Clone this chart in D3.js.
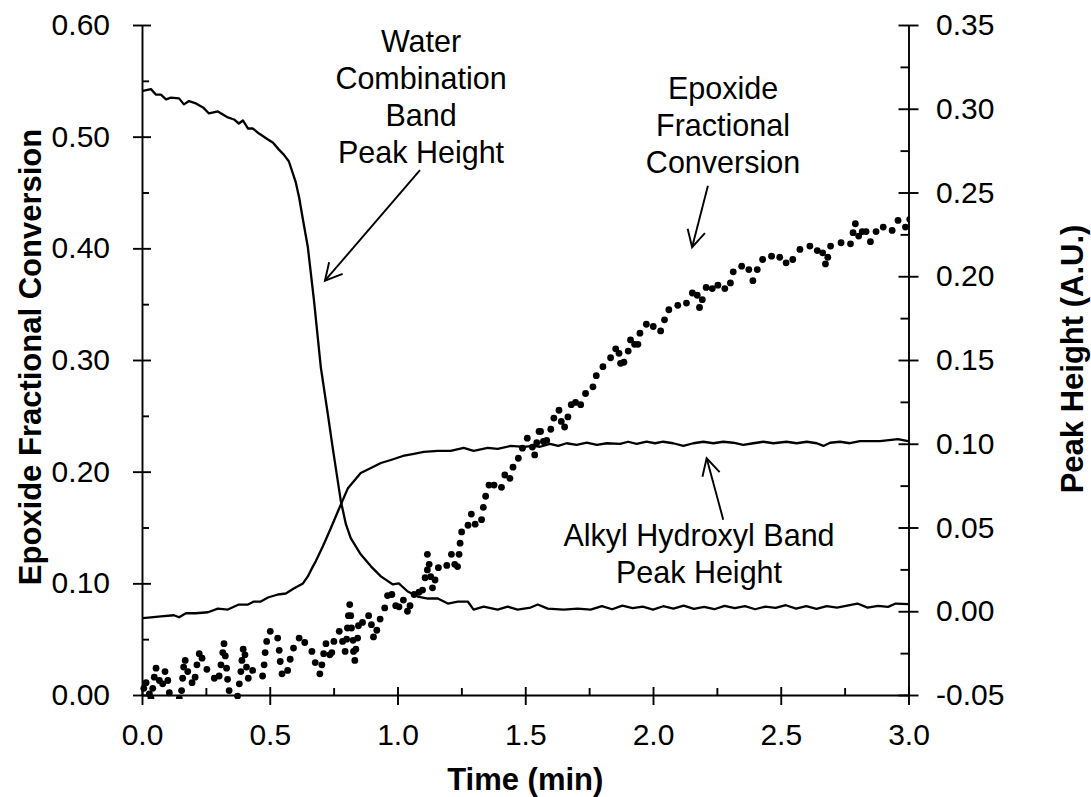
<!DOCTYPE html>
<html>
<head>
<meta charset="utf-8">
<script src="https://cdn.jsdelivr.net/npm/d3@7"></script>
<style>
  body { margin: 0; background: #fff; }
  svg { display: block; }
  text { font-family: "Liberation Sans", Arial, Helvetica, sans-serif; fill: #000; }
</style>
</head>
<body>
<svg id="chart" width="1091" height="797"></svg>
<script>
// ---- axis tick values ----
const timeTicks = [0, 0.5, 1.0, 1.5, 2.0, 2.5, 3.0];
const timeMinor = [0.25, 0.75, 1.25, 1.75, 2.25, 2.75];
const convTicks = [0, 0.1, 0.2, 0.3, 0.4, 0.5, 0.6];
const convMinor = [0.05, 0.15, 0.25, 0.35, 0.45, 0.55];
const peakTicks = [-0.05, 0, 0.05, 0.1, 0.15, 0.2, 0.25, 0.3, 0.35];
const peakMinor = [-0.025, 0.025, 0.075, 0.125, 0.175, 0.225, 0.275, 0.325];

// ---- epoxide fractional conversion (left axis), [time min, conversion] ----
const epoxideConversion = [
  [0.007,0.006],[0.016,0.011],[0.029,0.001],[0.035,-0.003],[0.042,0.006],[0.048,0.016],
  [0.055,0.024],[0.068,0.013],[0.081,0.010],[0.090,0.021],[0.101,0.013],[0.107,0.002],
  [0.146,-0.003],[0.155,0.004],[0.159,0.015],[0.163,0.025],[0.169,0.031],[0.179,0.021],
  [0.196,0.011],[0.208,0.016],[0.215,0.027],[0.224,0.037],[0.235,0.033],[0.254,0.023],
  [0.283,0.015],[0.302,0.017],[0.309,0.027],[0.316,0.038],[0.321,0.046],[0.326,0.035],
  [0.331,0.024],[0.335,0.014],[0.341,0.004],[0.374,-0.001],[0.381,0.010],[0.387,0.021],
  [0.391,0.031],[0.396,0.041],[0.403,0.036],[0.409,0.025],[0.416,0.015],[0.433,0.022],
  [0.472,0.017],[0.478,0.027],[0.482,0.038],[0.488,0.048],[0.502,0.057],[0.531,0.051],
  [0.537,0.040],[0.541,0.030],[0.548,0.019],[0.570,0.022],[0.580,0.032],[0.593,0.042],
  [0.615,0.051],[0.637,0.047],[0.665,0.039],[0.678,0.029],[0.696,0.019],[0.704,0.027],
  [0.711,0.037],[0.720,0.046],[0.735,0.036],[0.743,0.038],[0.751,0.048],[0.772,0.057],
  [0.785,0.048],[0.795,0.039],[0.801,0.050],[0.804,0.060],[0.808,0.071],[0.813,0.081],
  [0.817,0.071],[0.820,0.060],[0.826,0.049],[0.828,0.039],[0.833,0.031],[0.837,0.041],
  [0.844,0.051],[0.847,0.062],[0.863,0.065],[0.887,0.071],[0.898,0.063],[0.906,0.052],
  [0.919,0.058],[0.932,0.068],[0.950,0.078],[0.961,0.089],[0.978,0.090],[0.993,0.080],
  [1.006,0.079],[1.023,0.085],[1.039,0.075],[1.049,0.080],[1.065,0.090],[1.084,0.092],
  [1.098,0.094],[1.108,0.105],[1.117,0.112],[1.117,0.126],[1.124,0.117],[1.130,0.106],
  [1.137,0.096],[1.147,0.103],[1.160,0.114],[1.193,0.116],[1.211,0.126],[1.224,0.117],
  [1.235,0.115],[1.241,0.126],[1.245,0.136],[1.251,0.146],[1.276,0.152],[1.289,0.162],
  [1.304,0.153],[1.329,0.157],[1.336,0.168],[1.345,0.178],[1.358,0.188],[1.378,0.188],
  [1.407,0.186],[1.420,0.197],[1.440,0.194],[1.452,0.204],[1.473,0.212],[1.489,0.221],
  [1.508,0.230],[1.528,0.222],[1.537,0.215],[1.545,0.226],[1.554,0.236],[1.560,0.236],
  [1.571,0.227],[1.584,0.228],[1.600,0.238],[1.612,0.248],[1.632,0.255],[1.641,0.245],
  [1.654,0.240],[1.667,0.249],[1.680,0.260],[1.697,0.262],[1.717,0.260],[1.736,0.270],
  [1.765,0.276],[1.778,0.286],[1.804,0.294],[1.834,0.302],[1.854,0.310],[1.867,0.306],
  [1.873,0.297],[1.886,0.298],[1.903,0.308],[1.912,0.318],[1.928,0.314],[1.941,0.314],
  [1.949,0.324],[1.974,0.332],[2.001,0.330],[2.030,0.326],[2.045,0.336],[2.062,0.345],
  [2.097,0.349],[2.131,0.351],[2.154,0.360],[2.173,0.358],[2.182,0.347],[2.193,0.354],
  [2.208,0.365],[2.232,0.364],[2.254,0.367],[2.281,0.364],[2.303,0.369],[2.314,0.379],
  [2.347,0.384],[2.375,0.381],[2.391,0.371],[2.408,0.381],[2.429,0.390],[2.464,0.393],
  [2.496,0.392],[2.521,0.387],[2.547,0.390],[2.575,0.399],[2.614,0.402],[2.643,0.398],
  [2.664,0.396],[2.675,0.386],[2.684,0.392],[2.695,0.402],[2.736,0.405],[2.773,0.404],
  [2.783,0.414],[2.792,0.422],[2.805,0.411],[2.819,0.415],[2.834,0.415],[2.851,0.406],
  [2.873,0.415],[2.901,0.419],[2.936,0.416],[2.959,0.425],[2.988,0.419],[3.005,0.426]
];

// ---- water combination band peak height (right axis) ----
const waterPeak = [
  [0.003,0.3106],[0.035,0.3117],[0.055,0.3084],[0.074,0.3084],[0.094,0.3056],[0.113,0.3066],
  [0.145,0.3062],[0.164,0.3026],[0.184,0.3046],[0.211,0.3032],[0.239,0.3008],[0.262,0.2972],
  [0.297,0.2984],[0.336,0.2948],[0.360,0.2936],[0.379,0.2912],[0.395,0.2930],[0.415,0.2882],
  [0.434,0.2882],[0.458,0.2852],[0.493,0.2816],[0.512,0.2798],[0.536,0.2756],[0.555,0.2726],
  [0.575,0.2685],[0.602,0.2560],[0.615,0.2470],[0.630,0.2337],[0.649,0.2175],[0.673,0.1857],
  [0.700,0.1455],[0.727,0.1180],[0.745,0.0990],[0.762,0.0820],[0.778,0.0660],[0.798,0.0520],
  [0.817,0.0436],[0.856,0.0340],[0.896,0.0268],[0.935,0.0208],[0.982,0.0160],[1.005,0.0166],
  [1.040,0.0118],[1.079,0.0088],[1.119,0.0076],[1.158,0.0076],[1.197,0.0046],[1.236,0.0058],
  [1.275,0.0058],[1.298,0.0010],[1.337,0.0028],[1.392,0.0010],[1.431,0.0028],[1.470,0.0010],
  [1.521,0.0022],[1.549,0.0040],[1.588,0.0016],[1.650,0.0010],[1.705,0.0016],[1.756,0.0010],
  [1.800,0.0030],[1.840,0.0012],[1.880,0.0034],[1.920,0.0018],[1.960,0.0028],[2.000,0.0010],
  [2.040,0.0030],[2.080,0.0016],[2.120,0.0034],[2.160,0.0014],[2.200,0.0026],[2.240,0.0012],
  [2.280,0.0032],[2.320,0.0018],[2.360,0.0030],[2.400,0.0012],[2.440,0.0028],[2.480,0.0020],
  [2.520,0.0036],[2.560,0.0016],[2.600,0.0030],[2.640,0.0014],[2.680,0.0030],[2.720,0.0022],
  [2.760,0.0034],[2.800,0.0046],[2.840,0.0022],[2.880,0.0032],[2.920,0.0026],[2.950,0.0046],
  [3.000,0.0042]
];

// ---- alkyl hydroxyl band peak height (right axis) ----
const alkylPeak = [
  [0.003,-0.0041],[0.035,-0.0036],[0.074,-0.0030],[0.125,-0.0024],[0.145,-0.0036],[0.172,-0.0012],
  [0.211,-0.0012],[0.258,-0.0006],[0.297,0.0016],[0.336,0.0010],[0.379,0.0040],[0.415,0.0040],
  [0.438,0.0058],[0.465,0.0058],[0.493,0.0082],[0.532,0.0100],[0.563,0.0106],[0.594,0.0136],
  [0.630,0.0166],[0.649,0.0208],[0.669,0.0268],[0.680,0.0298],[0.708,0.0388],[0.739,0.0495],
  [0.767,0.0597],[0.806,0.0735],[0.856,0.0825],[0.896,0.0855],[0.935,0.0885],[0.974,0.0903],
  [1.021,0.0927],[1.064,0.0939],[1.103,0.0951],[1.158,0.0957],[1.208,0.0957],[1.259,0.0975],
  [1.298,0.0957],[1.353,0.0975],[1.392,0.0969],[1.443,0.0987],[1.494,0.0981],[1.533,0.0987],
  [1.558,0.0982],[1.597,0.0999],[1.629,0.0987],[1.662,0.1003],[1.701,0.0993],[1.741,0.1006],
  [1.780,0.0993],[1.819,0.1003],[1.871,0.0999],[1.903,0.1012],[1.936,0.0999],[1.975,0.1012],
  [2.008,0.1003],[2.040,0.1012],[2.079,0.1003],[2.119,0.0987],[2.158,0.1003],[2.197,0.1012],
  [2.236,0.1003],[2.275,0.1012],[2.314,0.1006],[2.353,0.0993],[2.393,0.1003],[2.432,0.1012],
  [2.471,0.1003],[2.523,0.1012],[2.562,0.1003],[2.602,0.1012],[2.641,0.1003],[2.667,0.0987],
  [2.693,0.1006],[2.732,0.1012],[2.771,0.1003],[2.810,0.1016],[2.888,0.1016],[2.959,0.1028],
  [2.998,0.1016]
];

// ---- callouts: text lines, anchor in (time, conversion) units, arrow tail -> tip ----
const callouts = [
  { lines: ["Water", "Combination", "Band", "Peak Height"], at: [1.092, 0.576],
    tail: [1.088, 0.470], tip: [0.716, 0.371] },
  { lines: ["Epoxide", "Fractional", "Conversion"], at: [2.274, 0.534],
    tail: [2.215, 0.456], tip: [2.153, 0.401] },
  { lines: ["Alkyl Hydroxyl Band", "Peak Height"], at: [2.180, 0.1334],
    tail: [2.275, 0.157], tip: [2.210, 0.212] }
];

// ---- layout ----
const svg = d3.select("#chart");
const plot = { left: 142, right: 908.5, top: 25, bottom: 695 };
const FONT = '"Liberation Sans", Arial, Helvetica, sans-serif';

const x = d3.scaleLinear().domain([0, 3]).range([plot.left, plot.right]);
const yConv = d3.scaleLinear().domain([0, 0.6]).range([plot.bottom, plot.top]);
const yPeak = d3.scaleLinear().domain([-0.05, 0.35]).range([plot.bottom, plot.top]);

const fmt2 = v => d3.format(".2f")(v).replace("\u2212", "-");
const fmt1 = v => d3.format(".1f")(v);

svg.append("rect").attr("width", 1091).attr("height", 797).attr("fill", "#fff");

function styleAxis(g) {
  g.attr("font-family", FONT).attr("font-size", 30);
  g.selectAll("line").attr("stroke", "#000").attr("stroke-width", 1.9);
  g.selectAll("path.domain").attr("stroke", "#000").attr("stroke-width", 1.9);
  g.selectAll("text").attr("fill", "#000");
}

// left axis (conversion)
const gL = svg.append("g").attr("transform", `translate(${plot.left},0)`)
  .call(d3.axisLeft(yConv).tickValues(convTicks).tickFormat(fmt2).tickSize(9).tickSizeOuter(0));
gL.selectAll(".tick line").attr("x1", 9).attr("x2", -9);
gL.selectAll(".tick text").attr("x", -32);
styleAxis(gL);
const gLm = svg.append("g").attr("transform", `translate(${plot.left},0)`)
  .call(d3.axisLeft(yConv).tickValues(convMinor).tickFormat("").tickSize(-7));
gLm.select(".domain").remove();
styleAxis(gLm);

// right axis (peak height)
const gR = svg.append("g").attr("transform", `translate(${plot.right},0)`)
  .call(d3.axisRight(yPeak).tickValues(peakTicks).tickFormat(fmt2).tickSize(10).tickSizeOuter(0));
gR.selectAll(".tick line").attr("x1", -10).attr("x2", 10);
gR.selectAll(".tick text").attr("x", 27.5);
styleAxis(gR);
const gRm = svg.append("g").attr("transform", `translate(${plot.right},0)`)
  .call(d3.axisRight(yPeak).tickValues(peakMinor).tickFormat("").tickSize(-8));
gRm.select(".domain").remove();
styleAxis(gRm);

// bottom axis (time)
const gB = svg.append("g").attr("transform", `translate(0,${plot.bottom})`)
  .call(d3.axisBottom(x).tickValues(timeTicks).tickFormat(fmt1).tickSize(9).tickSizeOuter(0));
gB.selectAll(".tick line").attr("y1", -8).attr("y2", 10);
gB.selectAll(".tick text").attr("y", 29);
styleAxis(gB);
const gBm = svg.append("g").attr("transform", `translate(0,${plot.bottom})`)
  .call(d3.axisBottom(x).tickValues(timeMinor).tickFormat("").tickSize(-7));
gBm.select(".domain").remove();
styleAxis(gBm);

// axis titles
svg.append("text").attr("x", (plot.left + plot.right) / 2).attr("y", 790)
  .attr("text-anchor", "middle").attr("font-size", 31).attr("font-weight", "bold")
  .text("Time (min)");
svg.append("text").attr("transform", "translate(41,357) rotate(-90)")
  .attr("text-anchor", "middle").attr("font-size", 31).attr("font-weight", "bold")
  .text("Epoxide Fractional Conversion");
svg.append("text").attr("transform", "translate(1083,359) rotate(-90)")
  .attr("text-anchor", "middle").attr("font-size", 31).attr("font-weight", "bold")
  .text("Peak Height (A.U.)");

// peak-height curves
const peakLine = d3.line().x(d => x(d[0])).y(d => yPeak(d[1]));
[waterPeak, alkylPeak].forEach(series => {
  svg.append("path").datum(series).attr("d", peakLine)
    .attr("fill", "none").attr("stroke", "#000").attr("stroke-width", 2.3)
    .attr("stroke-linejoin", "round");
});

// conversion points
svg.append("clipPath").attr("id", "dotClip").append("rect")
  .attr("x", plot.left - 8).attr("y", 0)
  .attr("width", plot.right + 1 - (plot.left - 8)).attr("height", plot.bottom + 4);
svg.append("g").attr("clip-path", "url(#dotClip)")
  .selectAll("circle").data(epoxideConversion).join("circle")
  .attr("cx", d => x(d[0])).attr("cy", d => yConv(d[1])).attr("r", 3.4).attr("fill", "#000");

// callouts
const lineGap = 37;
const headLen = 19, headAng = 28 * Math.PI / 180;
callouts.forEach(c => {
  const tx = x(c.at[0]), ty = yConv(c.at[1]);
  const t = svg.append("text").attr("text-anchor", "middle").attr("font-size", 30.5);
  c.lines.forEach((ln, i) => {
    t.append("tspan").attr("x", tx).attr("y", ty + i * lineGap).text(ln);
  });
  const x1 = x(c.tail[0]), y1 = yConv(c.tail[1]);
  const x2 = x(c.tip[0]), y2 = yConv(c.tip[1]);
  const back = Math.atan2(y1 - y2, x1 - x2);
  const arms = [back - headAng, back + headAng].map(a => [x2 + headLen * Math.cos(a), y2 + headLen * Math.sin(a)]);
  svg.append("line").attr("x1", x1).attr("y1", y1).attr("x2", x2).attr("y2", y2)
    .attr("stroke", "#000").attr("stroke-width", 1.9);
  svg.append("path")
    .attr("d", `M${arms[0][0]},${arms[0][1]}L${x2},${y2}L${arms[1][0]},${arms[1][1]}`)
    .attr("fill", "none").attr("stroke", "#000").attr("stroke-width", 1.9);
});
</script>
</body>
</html>
